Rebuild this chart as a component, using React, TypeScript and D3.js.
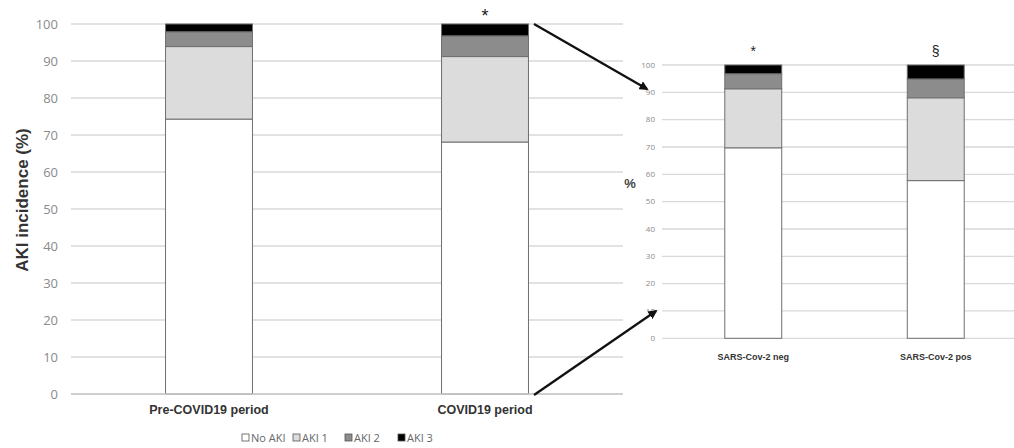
import React from "react";
import * as d3 from "d3";

const series = ["No AKI", "AKI 1", "AKI 2", "AKI 3"];
const colors = ["#ffffff", "#dcdcdc", "#8c8c8c", "#000000"];

const leftCategories = ["Pre-COVID19 period", "COVID19 period"];
const leftNoAKI = [74.3, 68.1];
const leftAKI1 = [19.6, 23.1];
const leftAKI2 = [4.0, 5.6];
const leftAKI3 = [2.1, 3.2];
const leftMarks = ["", "*"];

const rightCategories = ["SARS-Cov-2 neg", "SARS-Cov-2 pos"];
const rightNoAKI = [69.7, 57.7];
const rightAKI1 = [21.6, 30.3];
const rightAKI2 = [5.5, 6.9];
const rightAKI3 = [3.2, 5.1];
const rightMarks = ["*", "§"];

const yTicks = [0, 10, 20, 30, 40, 50, 60, 70, 80, 90, 100];

function stackData(cats: string[], a: number[], b: number[], c: number[], d: number[]) {
  const rows = cats.map((cat, i) => ({
    cat,
    "No AKI": a[i],
    "AKI 1": b[i],
    "AKI 2": c[i],
    "AKI 3": d[i],
  }));
  return d3.stack<any>().keys(series)(rows);
}

type PanelProps = {
  cats: string[];
  stacked: any[];
  marks: string[];
  x0: number;
  x1: number;
  yTop: number;
  yBottom: number;
  pad: number;
  tickX: number;
  tickSize: number;
  labelSize: number;
  labelY: number;
  markSize: number;
  markDy: number;
};

function Panel(p: PanelProps) {
  const x = d3.scaleBand().domain(p.cats).range([p.x0, p.x1]).paddingInner(p.pad).paddingOuter(p.pad / 2);
  const y = d3.scaleLinear().domain([0, 100]).range([p.yBottom, p.yTop]);
  return (
    <g>
      {yTicks.map((t) => (
        <g key={t}>
          <line x1={p.x0} x2={p.x1} y1={y(t)} y2={y(t)} stroke="#d9d9d9" strokeWidth={1.3} />
          <text
            x={p.tickX}
            y={y(t)}
            dy="0.35em"
            textAnchor="end"
            fontSize={p.tickSize}
            fill="#8a8a8a"
            fontFamily="'Open Sans', 'Liberation Sans', sans-serif"
          >
            {t}
          </text>
        </g>
      ))}
      {p.stacked.map((s: any, si: number) =>
        s.map((d: any, i: number) => (
          <rect
            key={si + "-" + i}
            x={x(p.cats[i])!}
            width={x.bandwidth()}
            y={y(d[1])}
            height={y(d[0]) - y(d[1])}
            fill={colors[si]}
            stroke="#6f6f6f"
            strokeWidth={1}
          />
        ))
      )}
      {p.cats.map((c, i) => (
        <g key={c}>
          <text
            x={x(c)! + x.bandwidth() / 2}
            y={p.labelY}
            textAnchor="middle"
            fontSize={p.labelSize}
            fontWeight="bold"
            fill="#333"
            fontFamily="'Liberation Sans', Arial, sans-serif"
          >
            {c}
          </text>
          {p.marks[i] && (
            <text
              x={x(c)! + x.bandwidth() / 2}
              y={y(100) - p.markDy}
              textAnchor="middle"
              fontSize={p.markSize}
              fill="#222"
              fontFamily="'Liberation Sans', Arial, sans-serif"
            >
              {p.marks[i]}
            </text>
          )}
        </g>
      ))}
    </g>
  );
}

export default function App() {
  const leftStack = stackData(leftCategories, leftNoAKI, leftAKI1, leftAKI2, leftAKI3);
  const rightStack = stackData(rightCategories, rightNoAKI, rightAKI1, rightAKI2, rightAKI3);

  const legendX = [242, 293, 345, 398];

  return (
    <svg
      width={1014}
      height={448}
      style={{ position: "absolute", left: 0, top: 0, background: "#fff" }}
    >
      <defs>
        <marker id="arrow" viewBox="0 0 10 10" refX="8" refY="5" markerWidth="4" markerHeight="4" orient="auto">
          <path d="M0,0 L10,5 L0,10 z" fill="#111" />
        </marker>
      </defs>
      <rect width={1014} height={448} fill="#fff" />
      <Panel
        cats={leftCategories}
        stacked={leftStack}
        marks={leftMarks}
        x0={71}
        x1={623}
        yTop={24}
        yBottom={394}
        pad={0.685}
        tickX={58}
        tickSize={13}
        labelSize={12.5}
        labelY={414}
        markSize={18}
        markDy={2}
      />
      <line x1={71} x2={623} y1={394} y2={394} stroke="#c8c8c8" strokeWidth={1.3} />
      <text
        transform="translate(28,200) rotate(-90)"
        textAnchor="middle"
        fontSize={17}
        fontWeight="bold"
        fill="#333"
        fontFamily="'Liberation Sans', Arial, sans-serif"
      >
        AKI incidence (%)
      </text>

      <Panel
        cats={rightCategories}
        stacked={rightStack}
        marks={rightMarks}
        x0={662}
        x1={1027}
        yTop={65}
        yBottom={338.3}
        pad={0.688}
        tickX={655}
        tickSize={8}
        labelSize={9}
        labelY={360}
        markSize={14}
        markDy={9}
      />
      <text
        x={630}
        y={188}
        textAnchor="middle"
        fontSize={13}
        fontWeight="bold"
        fill="#444"
        fontFamily="'Liberation Sans', Arial, sans-serif"
      >
        %
      </text>

      <line x1={534} y1={24} x2={647} y2={89} stroke="#111" strokeWidth={2.3} markerEnd="url(#arrow)" />
      <line x1={534} y1={395} x2={656} y2={311} stroke="#111" strokeWidth={2.3} markerEnd="url(#arrow)" />

      {series.map((s, i) => (
        <g key={s}>
          <rect x={legendX[i]} y={434} width={7} height={7} fill={colors[i]} stroke="#555" strokeWidth={0.8} />
          <text
            x={legendX[i] + 9}
            y={441.5}
            fontSize={11}
            fill="#666"
            fontFamily="'Open Sans', 'Liberation Sans', sans-serif"
          >
            {s}
          </text>
        </g>
      ))}
    </svg>
  );
}
